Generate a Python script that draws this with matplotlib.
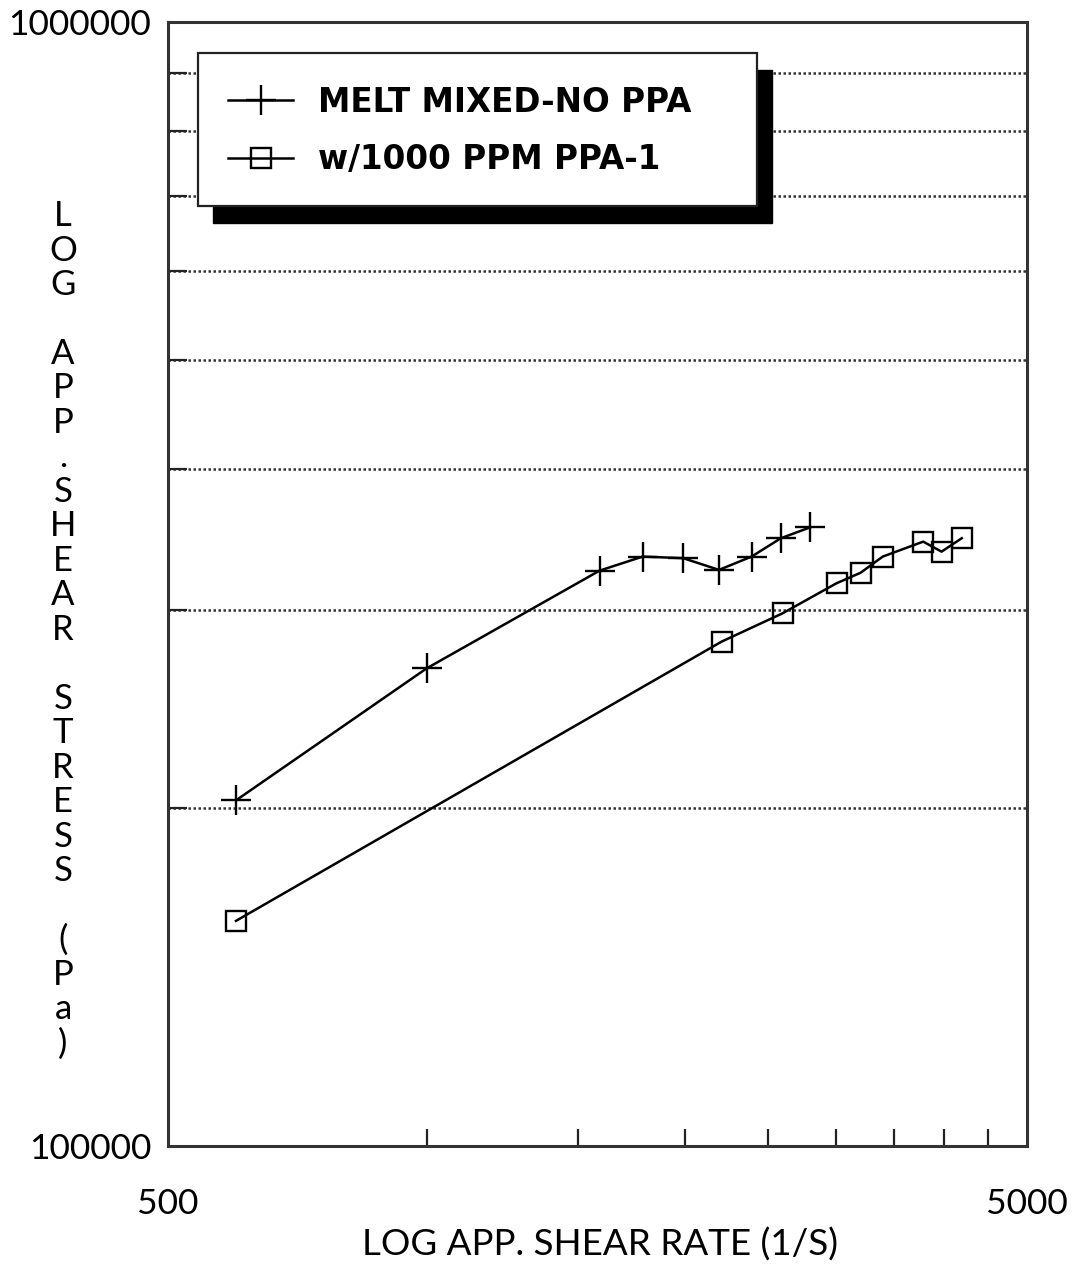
import matplotlib
matplotlib.use("Agg")
import matplotlib.pyplot as plt
from matplotlib.patches import Rectangle
from matplotlib.lines import Line2D

# ---- data ----
melt_rate = [600, 1000, 1590, 1785, 1990, 2190, 2390, 2585, 2795]
melt_stress = [203000, 266000, 325000, 334500, 333400, 325500, 334500, 347300, 355100]

ppa_rate = [600, 2205, 2597, 3001, 3201, 3397, 3786, 3977, 4198]
ppa_stress = [158600, 281000, 297800, 316700, 323600, 334500, 344900, 337900, 347300]

series_labels = ["MELT MIXED-NO PPA", "w/1000 PPM PPA-1"]
x_limits = [500, 5000]
y_limits = [100000, 1000000]
x_minor_ticks = [1000, 1500, 2000, 2500, 3000, 3500, 4000, 4500]
y_minor_ticks = [200000, 300000, 400000, 500000, 600000, 700000, 800000, 900000]
x_label = "LOG APP. SHEAR RATE (1/S)"

plt.rcParams['font.family'] = ['Lato', 'DejaVu Sans']

fig = plt.figure(figsize=(10.81, 12.80), dpi=100)
ax = fig.add_axes([0.1554, 0.1047, 0.9500 - 0.1554, 0.9828 - 0.1047])
ax.set_xscale('log')
ax.set_yscale('log')
ax.set_xlim(*x_limits)
ax.set_ylim(*y_limits)

ax.plot(melt_rate, melt_stress, color='black', lw=1.8, marker='+', ms=21, mew=1.7, zorder=3)
ax.plot(ppa_rate, ppa_stress, color='black', lw=1.8, marker='s', ms=14.5, mew=1.7,
        mfc='none', mec='black', zorder=3)

# ticks
ax.set_xticks(x_limits)
ax.set_xticklabels([str(v) for v in x_limits])
ax.set_xticks(x_minor_ticks, minor=True)
ax.set_xticklabels([], minor=True)
ax.set_yticks(y_limits)
ax.set_yticklabels([str(v) for v in y_limits])
ax.set_yticks(y_minor_ticks, minor=True)
ax.set_yticklabels([], minor=True)

ax.tick_params(which='major', length=0, labelsize=25.5, labelcolor='black')
ax.tick_params(axis='x', which='major', pad=30)
ax.tick_params(axis='y', which='major', pad=12)
ax.tick_params(which='minor', direction='in', length=12, width=1.6, color='#222222')
ax.tick_params(axis='y', which='minor', length=14)

ax.grid(which='minor', axis='y', linestyle=(0, (1, 1)), color='#333333', lw=1.8, zorder=1)
ax.set_axisbelow(True)

for s in ax.spines.values():
    s.set_linewidth(2.2)
    s.set_color('#333333')

# legend frame with solid shadow
ax.add_patch(Rectangle((0.0524, 0.8212), 0.6507, 0.1361, transform=ax.transAxes,
                       facecolor='black', edgecolor='black', zorder=4))
ax.add_patch(Rectangle((0.0349, 0.8363), 0.6508, 0.1361, transform=ax.transAxes,
                       facecolor='white', edgecolor='#222222', lw=1.6, zorder=5))

handles = [Line2D([], [], color='black', lw=1.8, marker='+', ms=21, mew=1.7),
           Line2D([], [], color='black', lw=1.8, marker='s', ms=14.5, mew=1.7, mfc='none')]
leg = ax.legend(handles, series_labels, loc='center left', bbox_to_anchor=(0.0698, 0.903),
                frameon=False, handlelength=2.0, handletextpad=0.77, labelspacing=0.75,
                borderpad=0.0, borderaxespad=0.0,
                prop={'family': 'DejaVu Sans', 'weight': 'bold', 'size': 23.5})
leg.set_zorder(6)

ax.set_xlabel(x_label, fontsize=26.5, va='center')
ax.xaxis.set_label_coords(0.503, -0.088)

stack = "\n".join(list("LOG") + [""] + list("APP") + ["."] + list("SHEAR") + [""]
                  + list("STRESS") + [""] + list("(Pa)"))
fig.text(0.0583, 0.5078, stack, ha='center', va='center', fontsize=25,
         linespacing=1.095)

fig.savefig("out.png", dpi=100)
